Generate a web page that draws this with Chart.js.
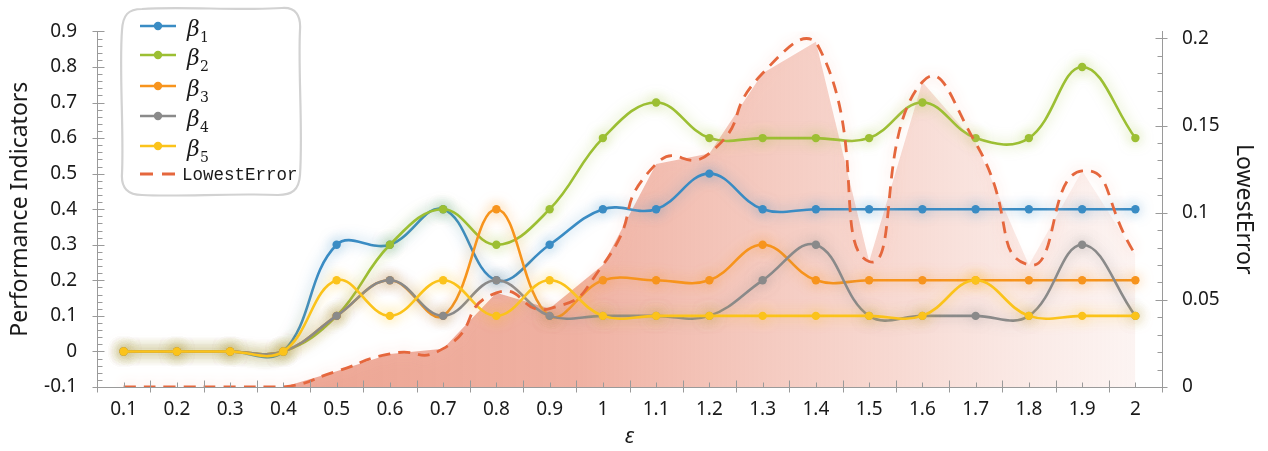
<!DOCTYPE html>
<html>
<head>
<meta charset="utf-8">
<script src="https://cdn.jsdelivr.net/npm/chart.js@4.4.1/dist/chart.umd.min.js"></script>
<style>
  html, body { margin: 0; padding: 0; background: #ffffff; }
  #wrap { position: relative; width: 1268px; height: 451px; }
  #chart { display: block; }
  #legend { position: absolute; left: 0; top: 0; pointer-events: none; }
</style>
</head>
<body>
<div id="wrap">
  <canvas id="chart" width="1268" height="451"></canvas>
  <svg id="legend" width="1268" height="451" xmlns="http://www.w3.org/2000/svg"></svg>
</div>
<script>
// x categories (epsilon)
const epsilon = ['0.1','0.2','0.3','0.4','0.5','0.6','0.7','0.8','0.9','1',
                 '1.1','1.2','1.3','1.4','1.5','1.6','1.7','1.8','1.9','2'];

// performance indicators (left axis)
const beta1 = [0,0,0,0,0.3,0.3,0.4,0.2,0.3,0.4,0.4,0.5,0.4,0.4,0.4,0.4,0.4,0.4,0.4,0.4];
const beta2 = [0,0,0,0,0.1,0.3,0.4,0.3,0.4,0.6,0.7,0.6,0.6,0.6,0.6,0.7,0.6,0.6,0.8,0.6];
const beta3 = [0,0,0,0,0.1,0.2,0.1,0.4,0.1,0.2,0.2,0.2,0.3,0.2,0.2,0.2,0.2,0.2,0.2,0.2];
const beta4 = [0,0,0,0,0.1,0.2,0.1,0.2,0.1,0.1,0.1,0.1,0.2,0.3,0.1,0.1,0.1,0.1,0.3,0.1];
const beta5 = [0,0,0,0,0.2,0.1,0.2,0.1,0.2,0.1,0.1,0.1,0.1,0.1,0.1,0.1,0.2,0.1,0.1,0.1];

// lowest error (right axis)
const lowestError = [0,0,0,0,0.009,0.019,0.022,0.054,0.045,0.07,
                     0.128,0.134,0.18,0.198,0.072,0.175,0.14,0.07,0.124,0.076];

// tick values
const leftTicks  = [-0.1,0,0.1,0.2,0.3,0.4,0.5,0.6,0.7,0.8,0.9];
const rightTicks = [0,0.05,0.1,0.15,0.2];

const COLORS = {
  b1: '#3a8cc4', b2: '#9cbf33', b3: '#f7941d', b4: '#8a8a8a', b5: '#fbc31b', err: '#e5673d'
};
const AXIS = '#9a9a9a';
const FONT = "'Noto Sans', 'Open Sans', sans-serif";

function rgba(hex, a) {
  const n = parseInt(hex.slice(1), 16);
  return `rgba(${(n >> 16) & 255},${(n >> 8) & 255},${n & 255},${a})`;
}

function lineSet(label, data, color, order) {
  return {
    label, data, yAxisID: 'y', order,
    borderColor: color, backgroundColor: color,
    borderWidth: 2.6, tension: 0.4, fill: false,
    pointRadius: 4.2, pointHoverRadius: 4.2, pointBorderWidth: 0,
    glow: rgba(color, 0.6)
  };
}

// soft halo around each curve
const glowPlugin = {
  id: 'glow',
  beforeDatasetDraw(chart, args) {
    const ds = chart.data.datasets[args.index];
    if (!ds.glow) return;
    chart.ctx.save();
    chart.ctx.shadowColor = ds.glow;
    chart.ctx.shadowBlur = 13;
  },
  afterDatasetDraw(chart, args) {
    const ds = chart.data.datasets[args.index];
    if (!ds.glow) return;
    chart.ctx.restore();
  }
};

// major / minor tick marks crossing the axis lines
const tickMarks = {
  id: 'tickMarks',
  afterDraw(chart) {
    const { ctx, chartArea: a, scales } = chart;
    const x = scales.x, y = scales.y, y1 = scales.y1;
    ctx.save();
    ctx.strokeStyle = AXIS;
    ctx.lineWidth = 1;
    const seg = (x0, y0, x1, y1_) => { ctx.beginPath(); ctx.moveTo(x0, y0); ctx.lineTo(x1, y1_); ctx.stroke(); };
    const b = Math.round(a.bottom) + 0.5;
    for (let i = 0; i <= epsilon.length; i++) {
      const px = Math.round(x.getPixelForValue(i - 0.5)) + 0.5;
      seg(px, b - 7, px, b + 5);
    }
    for (let i = 0; i < epsilon.length; i++) {
      const px = Math.round(x.getPixelForValue(i)) + 0.5;
      seg(px, b - 5, px, b);
    }
    const l = Math.round(a.left) + 0.5;
    for (let m = -5; m <= 45; m++) {
      const py = Math.round(y.getPixelForValue(m * 0.02)) + 0.5;
      if (m % 5 === 0) seg(l - 5, py, l + 7, py); else seg(l, py, l + 5, py);
    }
    const r = Math.round(a.right) + 0.5;
    for (let m = 0; m <= 20; m++) {
      const py = Math.round(y1.getPixelForValue(m * 0.01)) + 0.5;
      if (m % 5 === 0) seg(r - 7, py, r + 5, py); else seg(r - 5, py, r, py);
    }
    ctx.restore();
  }
};

const fmt = v => String(Math.round(v * 100) / 100);

new Chart(document.getElementById('chart'), {
  type: 'line',
  data: {
    labels: epsilon,
    datasets: [
      {
        label: 'LowestError', data: lowestError, yAxisID: 'y1', order: 0,
        borderColor: COLORS.err, borderWidth: 2.8, borderDash: [12, 8],
        tension: 0.62, fill: false, pointRadius: 0, pointHoverRadius: 0,
        glow: 'rgba(250,190,175,0.9)'
      },
      lineSet('β5', beta5, COLORS.b5, 1),
      lineSet('β4', beta4, COLORS.b4, 2),
      lineSet('β3', beta3, COLORS.b3, 3),
      lineSet('β2', beta2, COLORS.b2, 4),
      lineSet('β1', beta1, COLORS.b1, 5),
      {
        label: 'LowestError area', data: lowestError, yAxisID: 'y1', order: 6,
        borderWidth: 0, borderColor: 'rgba(0,0,0,0)', tension: 0,
        pointRadius: 0, pointHoverRadius: 0, fill: 'start',
        backgroundColor(c) {
          const a = c.chart.chartArea;
          if (!a) return 'rgba(0,0,0,0)';
          const g = c.chart.ctx.createLinearGradient(a.left, 0, a.right, 0);
          g.addColorStop(0, 'rgba(230,135,110,0.82)');
          g.addColorStop(0.45, 'rgba(232,140,118,0.68)');
          g.addColorStop(0.75, 'rgba(236,160,142,0.4)');
          g.addColorStop(1, 'rgba(240,195,185,0.15)');
          return g;
        }
      }
    ]
  },
  options: {
    responsive: false,
    animation: false,
    devicePixelRatio: 1,
    layout: { padding: { top: 28, left: 0, right: 0, bottom: 0 } },
    plugins: { legend: { display: false }, tooltip: { enabled: false } },
    scales: {
      x: {
        type: 'category', offset: true,
        grid: { display: false, drawTicks: false, offset: true },
        border: { display: true, color: AXIS, width: 1 },
        ticks: { color: '#1a1a1a', font: { family: FONT, size: 19 }, padding: 11, maxRotation: 0, autoSkip: false },
        title: { display: true, text: 'ε', color: '#1a1a1a', font: { family: FONT, size: 22, style: 'italic' }, padding: { top: 0, bottom: 1 } },
        afterFit(s) { s.height = 64; }
      },
      y: {
        type: 'linear', position: 'left', min: -0.1, max: 0.9,
        grid: { display: false, drawTicks: false },
        border: { display: true, color: AXIS, width: 1 },
        afterBuildTicks(s) { s.ticks = leftTicks.map(v => ({ value: v })); },
        ticks: { color: '#1a1a1a', font: { family: FONT, size: 19 }, padding: 20, callback: fmt },
        title: { display: true, text: 'Performance Indicators', color: '#1a1a1a', font: { family: FONT, size: 23 }, padding: { top: 7, bottom: 0 } },
        afterFit(s) { s.width = 97; }
      },
      y1: {
        type: 'linear', position: 'right', min: 0, max: 0.204,
        grid: { display: false, drawTicks: false },
        border: { display: true, color: AXIS, width: 1 },
        afterBuildTicks(s) { s.ticks = rightTicks.map(v => ({ value: v })); },
        ticks: { color: '#1a1a1a', font: { family: FONT, size: 19 }, padding: 20, callback: fmt },
        title: { display: true, text: 'LowestError', color: '#1a1a1a', font: { family: FONT, size: 23 }, padding: { top: 11, bottom: 0 } },
        afterFit(s) { s.width = 106; }
      }
    }
  },
  plugins: [glowPlugin, tickMarks]
});

// legend box
(function buildLegend() {
  const svg = document.getElementById('legend');
  const NS = 'http://www.w3.org/2000/svg';
  const el = (tag, attrs, parent) => {
    const e = document.createElementNS(NS, tag);
    for (const k in attrs) e.setAttribute(k, attrs[k]);
    (parent || svg).appendChild(e);
    return e;
  };
  el('path', {
    d: 'M 142 9 C 180 6, 240 11, 282 8 C 296 7, 301 16, 300 30 C 298 70, 303 130, 300 175 ' +
       'C 299 190, 292 195, 278 195 C 230 193, 180 197, 142 195 C 128 195, 121 188, 122 174 ' +
       'C 124 130, 119 70, 122 30 C 123 15, 128 9, 142 9 Z',
    fill: '#ffffff', stroke: '#d2d2d2', 'stroke-width': 2.2
  });
  const entries = [
    { sub: '1', color: COLORS.b1 },
    { sub: '2', color: COLORS.b2 },
    { sub: '3', color: COLORS.b3 },
    { sub: '4', color: COLORS.b4 },
    { sub: '5', color: COLORS.b5 }
  ];
  const rows = [26, 55, 86, 116, 146];
  entries.forEach((e, i) => {
    const cy = rows[i];
    el('line', { x1: 140, y1: cy, x2: 176, y2: cy, stroke: e.color, 'stroke-width': 2.6 });
    el('circle', { cx: 158, cy: cy, r: 4.2, fill: e.color });
    const t = el('text', { x: 187, y: cy + 10, fill: '#1a1a1a',
      'font-family': "'DejaVu Serif', serif", 'font-size': 22, 'font-style': 'italic' });
    t.textContent = 'β';
    const s = el('text', { x: 200, y: cy + 16, fill: '#1a1a1a',
      'font-family': "'DejaVu Serif', serif", 'font-size': 14 });
    s.textContent = e.sub;
  });
  const ey = 174;
  el('line', { x1: 140, y1: ey, x2: 176, y2: ey, stroke: COLORS.err, 'stroke-width': 2.8, 'stroke-dasharray': '13 9' });
  const lt = el('text', { x: 182, y: ey + 6, fill: '#1a1a1a',
    'font-family': "'Liberation Mono', 'DejaVu Sans Mono', monospace", 'font-size': 17.5 });
  lt.textContent = 'LowestError';
})();
</script>
</body>
</html>
